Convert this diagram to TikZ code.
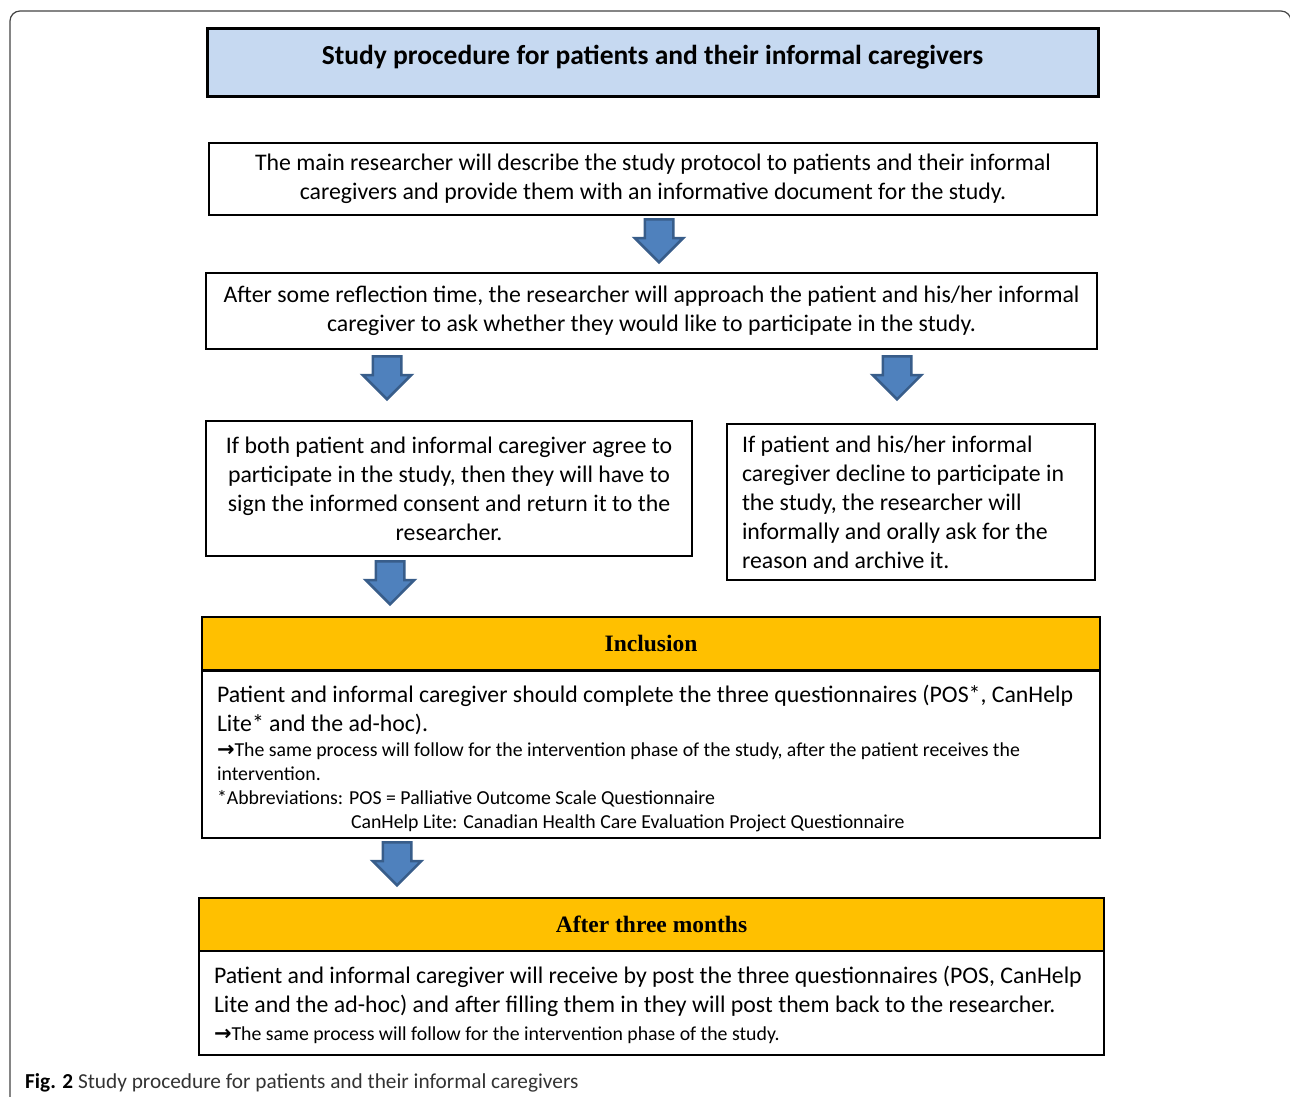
\documentclass[tikz,border=0pt]{standalone}
\usepackage{fontspec}
\setmainfont{Carlito}
\newfontfamily\serifhead{Liberation Serif}
\newfontfamily\arrowfont{DejaVu Sans}
\usepackage{xcolor}
\usetikzlibrary{shapes,arrows,positioning}

\definecolor{titleblue}{HTML}{C6D9F1}
\definecolor{inclgold}{HTML}{FFC000}
\definecolor{arrowfill}{HTML}{4F81BD}
\definecolor{arrowline}{HTML}{385D8A}
\definecolor{framegray}{HTML}{444444}
\definecolor{capgray}{HTML}{333333}

\newcommand{\bigtext}{\fontsize{23.8pt}{29pt}\selectfont}
\newcommand{\smalltext}{\fontsize{19.8pt}{24.3pt}\selectfont}
\newcommand{\rarr}{{\arrowfont\bfseries\fontsize{21pt}{20pt}\selectfont →}}

\begin{document}
\begin{tikzpicture}[
    x=1pt, y=-1pt,
    stepbox/.style={rectangle, draw=black, line width=1.3pt, fill=white, inner sep=0pt, align=center, font=\bigtext},
    titlebox/.style={stepbox, fill=titleblue, line width=3pt, font=\fontsize{27.5pt}{32pt}\selectfont\bfseries, text depth=14pt},
    headbox/.style={stepbox, fill=inclgold, font=\serifhead\fontsize{23.5pt}{27pt}\selectfont\bfseries},
    bodybox/.style={stepbox, align=flush left, inner xsep=15pt},
    downarrow/.style={shape=single arrow, shape border rotate=270, draw=arrowline, fill=arrowfill, line width=2.5pt, inner sep=13pt, minimum height=43pt, single arrow head extend=10pt, anchor=tail}
]
\useasboundingbox (0,0) rectangle (1290,1096);
\draw[framegray, line width=1.2pt, rounded corners=10pt] (10,1100) -- (10,11) -- (1291,11) -- (1291,1100);

% title
\node[titlebox, minimum width=891, minimum height=68] (title) at (652.5,62) {Study procedure for patients and their informal caregivers};

% first two steps
\node[stepbox, minimum width=888, minimum height=72] (s1) at (653,179) {The main researcher will describe the study protocol to patients and their informal\\ caregivers and provide them with an informative document for the study.};
\node[stepbox, minimum width=891, minimum height=76] (s2) at (651.5,311) {After some reflection time, the researcher will approach the patient and his/her informal\\ caregiver to ask whether they would like to participate in the study.};

% agree / decline
\node[stepbox, minimum width=486, minimum height=135] (agree) at (449,488.5) {If both patient and informal caregiver agree to\\ participate in the study, then they will have to\\ sign the informed consent and return it to the\\ researcher.};
\node[bodybox, text width=338, minimum height=156] (decline) at (911,502) {If patient and his/her informal\\ caregiver decline to participate in\\ the study, the researcher will\\ informally and orally ask for the\\ reason and archive it.};

% inclusion
\node[headbox, minimum width=898, minimum height=53] (inclhead) at (651,643.5) {Inclusion};
\node[bodybox, text width=868, minimum height=167] (inclbody) at (651,754.5) {\rule{0pt}{26pt}Patient and informal caregiver should complete the three questionnaires (POS*, CanHelp\\ Lite* and the ad-hoc).\par
\smalltext \rarr The same process will follow for the intervention phase of the study, after the patient receives the\\ intervention.\\ {*}Abbreviations: POS = Palliative Outcome Scale Questionnaire\\ \hspace*{134pt}CanHelp Lite: Canadian Health Care Evaluation Project Questionnaire\par};

% after three months
\node[headbox, minimum width=905, minimum height=53] (afterhead) at (651.5,924.5) {After three months};
\node[bodybox, text width=875, minimum height=104] (afterbody) at (651.5,1003) {\rule{0pt}{21pt}Patient and informal caregiver will receive by post the three questionnaires (POS, CanHelp\\ Lite and the ad-hoc) and after filling them in they will post them back to the researcher.\par\vspace{4.5pt}
\smalltext \rarr The same process will follow for the intervention phase of the study.\par};

% block arrows
\node[downarrow] (a1) at (659,218) {};
\node[downarrow] (a2l) at (387,355) {};
\node[downarrow] (a2r) at (897,355) {};
\node[downarrow] (a3) at (390,560) {};
\node[downarrow] (a4) at (397,841) {};

% caption
\node[anchor=base west, inner sep=0pt, font=\fontsize{21.3pt}{25pt}\selectfont] (caption) at (25,1088) {\textbf{Fig. 2} \textcolor{capgray}{Study procedure for patients and their informal caregivers}};
\end{tikzpicture}
\end{document}
